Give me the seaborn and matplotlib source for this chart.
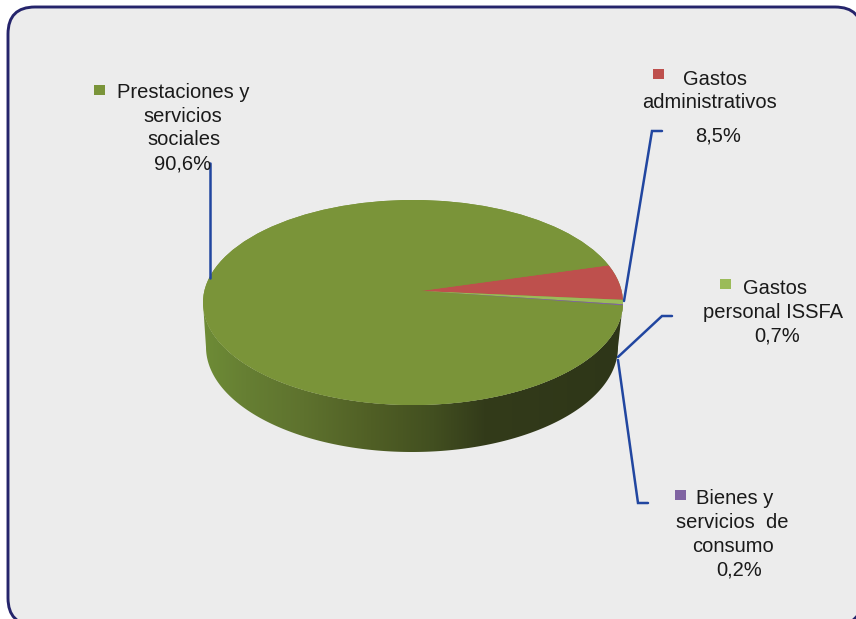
# -*- coding: utf-8 -*-
import numpy as np
import matplotlib
matplotlib.use('Agg')
import matplotlib.pyplot as plt
from matplotlib.colors import LinearSegmentedColormap
from matplotlib.patches import Circle, FancyBboxPatch, Polygon, Rectangle
import seaborn as sns

# Slice shares as measured on the picture. The printed labels say otherwise
# (red is printed 8,5% but drawn near 5,8%), so both are kept as they appear.
categorias = ['Gastos administrativos', 'Gastos personal ISSFA',
              'Bienes y servicios de consumo', 'Prestaciones y servicios sociales']
porcion_dibujada = [5.75, 0.7, 0.2, 93.35]
colores = ['#BE504D', '#9BBB59', '#8064A2', '#7A9439']

etiqueta_prestaciones = ['Prestaciones y', 'servicios', 'sociales', '90,6%']
etiqueta_admin = ['Gastos', 'administrativos', '8,5%']
etiqueta_personal = ['Gastos', 'personal ISSFA', '0,7%']
etiqueta_bienes = ['Bienes y', 'servicios  de', 'consumo', '0,2%']

W, H = 856, 619
sns.set_theme(style='white')
plt.rcParams['font.family'] = ['Liberation Sans', 'DejaVu Sans']
paleta = sns.color_palette(colores)

fig = plt.figure(figsize=(W / 100, H / 100), dpi=100, facecolor='white')


def capa(z):
    ax = fig.add_axes([0, 0, 1, 1], zorder=z)
    ax.set_xlim(0, W)
    ax.set_ylim(H, 0)
    ax.axis('off')
    ax.patch.set_alpha(0)
    return ax


# fondo y marco
ax_fondo = capa(0)
ax_fondo.add_patch(FancyBboxPatch((8, 7), 854, 618, boxstyle='round,pad=0,rounding_size=27',
                                  fc='#ECECEC', ec='#25246B', lw=2.1))

# geometria de la tarta 3D (pixeles)
cx, cy, rx, ry = 413, 302.5, 210, 102.5
cx_b, cy_b, rx_b, ry_b = 412, 347, 206, 105

# pared lateral con degradado
t = np.linspace(np.pi, 2 * np.pi, 200)
arriba = np.c_[cx + rx * np.cos(t), cy - ry * np.sin(t)]
abajo = np.c_[cx_b + rx_b * np.cos(t), cy_b - ry_b * np.sin(t)]
pared = Polygon(np.vstack([arriba, abajo[::-1]]), closed=True, transform=ax_fondo.transData,
                fc='none', ec='none')
ax_fondo.add_patch(pared)
degradado = LinearSegmentedColormap.from_list('pared', [
    (0.00, '#6E8C36'), (0.10, '#667F33'), (0.24, '#5E722E'), (0.40, '#505F25'),
    (0.55, '#424F20'), (0.67, '#333B1A'), (1.00, '#2E3618')])
img = ax_fondo.imshow(np.linspace(0, 1, 256)[None, :], cmap=degradado, aspect='auto',
                      extent=(203, 623, 460, 290), zorder=2)
img.set_clip_path(pared)
ax_fondo.set_xlim(0, W)
ax_fondo.set_ylim(H, 0)

# cara superior: el vertice no coincide con el centro de la elipse (perspectiva)
ax_pie = fig.add_axes([0, 0, 1, 1], zorder=1)
ax_pie.patch.set_alpha(0)
vertice = ((420 - cx) / rx, (cy - 291) / ry)
borde = Circle((0, 0), 1, fc=colores[3], ec='none')
wedges, _ = ax_pie.pie(porcion_dibujada, colors=paleta, startangle=15.6, counterclock=False,
                       center=vertice, radius=1.3, wedgeprops={'linewidth': 0})
ax_pie.add_patch(borde)
borde.set_zorder(0)
ax_pie.set_aspect('auto')
ax_pie.set_xlim((0 - cx) / rx, (W - cx) / rx)
ax_pie.set_ylim((cy - H) / ry, cy / ry)
ax_pie.axis('off')
for w in wedges:
    w.set_clip_on(True)
    w.set_clip_path(Circle((0, 0), 1, transform=ax_pie.transData))

# lineas guia, marcadores y textos
ax_top = capa(2)
azul = '#2146A0'
guias = [([210, 210], [163, 278]),
         ([662, 652, 624], [131, 131, 301]),
         ([672, 662, 618], [316, 316, 357]),
         ([648, 638, 618], [503, 503, 360])]
for xs, ys in guias:
    ax_top.plot(xs, ys, color=azul, lw=1.8, solid_joinstyle='miter')

marcadores = [(94, 85, 3), (653, 69, 0), (720, 279, 1), (675, 490, 2)]
for x, y, i in marcadores:
    ax_top.add_patch(Rectangle((x, y), 11, 10, fc=colores[i], ec='none'))

bloques = [(etiqueta_prestaciones, [183, 183, 184, 183], [98, 122, 145, 170]),
           (etiqueta_admin, [715, 710, 718], [85, 108, 142]),
           (etiqueta_personal, [775, 773, 777], [294, 318, 341]),
           (etiqueta_bienes, [735, 732, 733, 739], [504, 528, 552, 576])]
for lineas, xs, ys in bloques:
    for s, x, y in zip(lineas, xs, ys):
        ax_top.text(x, y, s, ha='center', va='baseline', fontsize=14.5, color='#1A1A1A')

fig.savefig('out.png', dpi=100)
